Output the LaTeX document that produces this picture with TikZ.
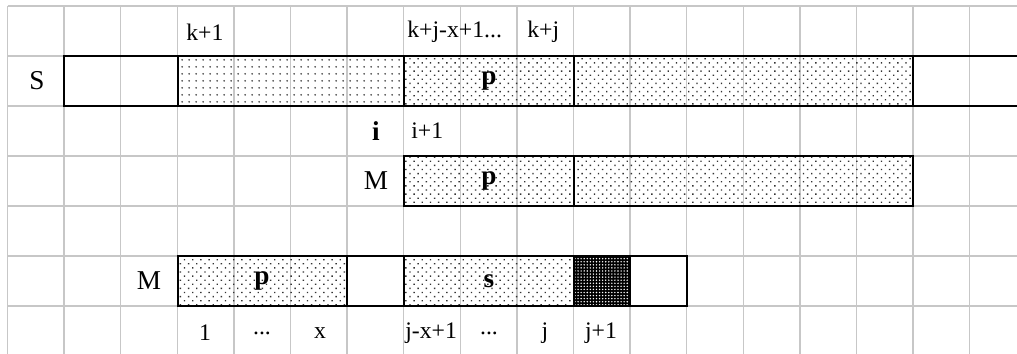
\documentclass[tikz,border=0pt]{standalone}
\usepackage{fontspec}
\setmainfont{Liberation Serif}
\usetikzlibrary{patterns.meta}
\begin{document}
\begin{tikzpicture}[x=0.02cm,y=-0.02cm,
  gridline/.style={draw=black!22,line width=0.7pt},
  boxline/.style={draw=black,line width=1.1pt},
  sparse/.style={pattern={Dots[distance=4pt,radius=0.6pt]},pattern color=black!80},
  dense/.style={pattern={Dots[angle=45,distance=3.3pt,radius=0.55pt]},pattern color=black!80},
  darkdots/.style={pattern={Dots[distance=1.75pt,radius=0.45pt]},pattern color=white},
  idx/.style={inner sep=0pt,font=\fontsize{13.5}{15}\selectfont},
  lab/.style={inner sep=0pt,font=\fontsize{15.5}{17}\selectfont},
  blab/.style={inner sep=0pt,font=\fontsize{15.5}{17}\selectfont\bfseries}]
\useasboundingbox (0,0) rectangle (1017,354);
\clip (0,0) rectangle (1017,354);
% grid
\foreach \k in {0,...,17} \draw[gridline] (7.5+56.6*\k,6) -- (7.5+56.6*\k,354);
\foreach \k in {0,...,6} \draw[gridline] (7.5,6+50*\k) -- (1017,6+50*\k);
% S bar
\fill[sparse] (178,56) rectangle (404,106);
\fill[dense] (404,56) rectangle (913,106);
\draw[boxline] (1020,56) -- (64,56) -- (64,106) -- (1020,106);
\foreach \xx in {178,404,574,913} \draw[boxline] (\xx,56) -- (\xx,106);
% middle M bar
\fill[dense] (404,156) rectangle (913,206);
\draw[boxline] (404,156) rectangle (913,206);
\draw[boxline] (574,156) -- (574,206);
% bottom M bar
\fill[dense] (178,256) rectangle (347,306);
\fill[dense] (404,256) rectangle (574,306);
\fill[black] (574,256) rectangle (630,306);
\fill[darkdots] (574,256) rectangle (630,306);
\draw[boxline] (178,256) rectangle (687,306);
\foreach \xx in {347,404,574,630} \draw[boxline] (\xx,256) -- (\xx,306);
% labels
\node[idx,anchor=west] (k1) at (186,32) {k+1};
\node[idx,anchor=west] (kjx) at (407,32) {k+j-x+1...};
\node[idx,anchor=west] (kj) at (527,32) {k+j};
\node[lab] (S) at (37,81) {S};
\node[blab] (p1) at (489,81) {p};
\node[blab] (i) at (376,131) {i};
\node[idx,anchor=west] (i1) at (411,131) {i+1};
\node[lab] (M1) at (376,181) {M};
\node[blab] (p2) at (489,181) {p};
\node[lab] (M2) at (149,281) {M};
\node[blab] (p3) at (262,281) {p};
\node[blab] (s) at (489,281) {s};
\node[idx] (n1) at (205,333) {1};
\node[idx] (d1) at (262,333) {...};
\node[idx] (x) at (320,333) {x};
\node[idx,anchor=west] (jx1) at (405,333) {j-x+1};
\node[idx] (d2) at (489,333) {...};
\node[idx] (j) at (545,333) {j};
\node[idx] (j1) at (601,333) {j+1};
\end{tikzpicture}
\end{document}
